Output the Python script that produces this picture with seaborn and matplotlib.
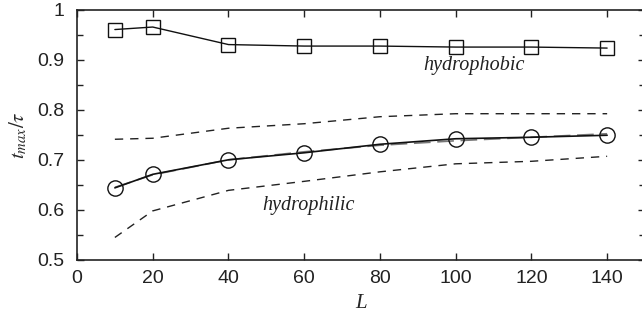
import matplotlib
matplotlib.use("Agg")
import matplotlib.pyplot as plt
import seaborn as sns
import pandas as pd
from matplotlib.ticker import MultipleLocator

L = [10, 20, 40, 60, 80, 100, 120, 140]
hydrophobic = [0.960, 0.965, 0.930, 0.927, 0.927, 0.925, 0.925, 0.923]
hydrophilic = [0.644, 0.671, 0.700, 0.714, 0.731, 0.742, 0.745, 0.749]
fit_hydrophilic = [0.645, 0.670, 0.700, 0.716, 0.729, 0.738, 0.745, 0.752]
upper_band = [0.741, 0.743, 0.763, 0.772, 0.786, 0.792, 0.792, 0.792]
lower_band = [0.545, 0.598, 0.639, 0.657, 0.676, 0.692, 0.697, 0.707]

sns.set_style("ticks")
plt.rcParams["font.family"] = ["Liberation Sans", "DejaVu Sans"]
plt.rcParams["mathtext.fontset"] = "stix"

df = pd.DataFrame({"L": L, "phob": hydrophobic, "phil": hydrophilic,
                   "fit": fit_hydrophilic, "up": upper_band, "lo": lower_band})

fig = plt.figure(figsize=(6.42, 3.24), dpi=100)
ax = fig.add_axes([77/642, 64/324, 568/642, 250.5/324])

sns.lineplot(data=df, x="L", y="up", ax=ax, color="#222222", lw=1.0,
             linestyle=(0, (6, 5)))
sns.lineplot(data=df, x="L", y="lo", ax=ax, color="#222222", lw=1.0,
             linestyle=(0, (6, 5)))
sns.lineplot(data=df, x="L", y="fit", ax=ax, color="#777777", lw=1.2,
             linestyle=(0, (10, 4)))
sns.lineplot(data=df, x="L", y="phil", ax=ax, color="#111111", lw=1.2,
             marker="o", markersize=11, markerfacecolor="none",
             markeredgecolor="#111111", markeredgewidth=1.0)
sns.lineplot(data=df, x="L", y="phob", ax=ax, color="#111111", lw=1.0,
             marker="s", markersize=10, markerfacecolor="none",
             markeredgecolor="#111111", markeredgewidth=1.0)

ax.set_xlim(0, 150)
ax.set_ylim(0.5, 1.0)
ax.xaxis.set_major_locator(MultipleLocator(20))
ax.yaxis.set_major_locator(MultipleLocator(0.1))
ax.yaxis.set_minor_locator(MultipleLocator(0.05))
ax.set_yticks([0.5, 0.6, 0.7, 0.8, 0.9, 1.0])
ax.set_yticklabels(["0.5", "0.6", "0.7", "0.8", "0.9", "1"])
ax.tick_params(direction="in", which="both", top=True, right=True,
               labelsize=14, length=5, width=1.0, colors="#222222",
               labelcolor="#222222")
ax.tick_params(axis="x", pad=7)
ax.tick_params(axis="y", pad=9)
ax.tick_params(which="minor", length=4)
for s in ax.spines.values():
    s.set_linewidth(1.2)
    s.set_color("#222222")

ax.set_xlabel("L", fontsize=15, fontstyle="italic", family="Liberation Serif",
              labelpad=5)
ax.set_ylabel(r"$t_{max}/\tau$", fontsize=15, labelpad=6)

ax.text(91.5, 0.889, "hydrophobic", fontsize=14.5, fontstyle="italic",
        family="Liberation Serif", va="center", ha="left", color="#222222")
ax.text(49, 0.608, "hydrophilic", fontsize=14.5, fontstyle="italic",
        family="Liberation Serif", va="center", ha="left", color="#222222")

fig.savefig("out.png", dpi=100)
